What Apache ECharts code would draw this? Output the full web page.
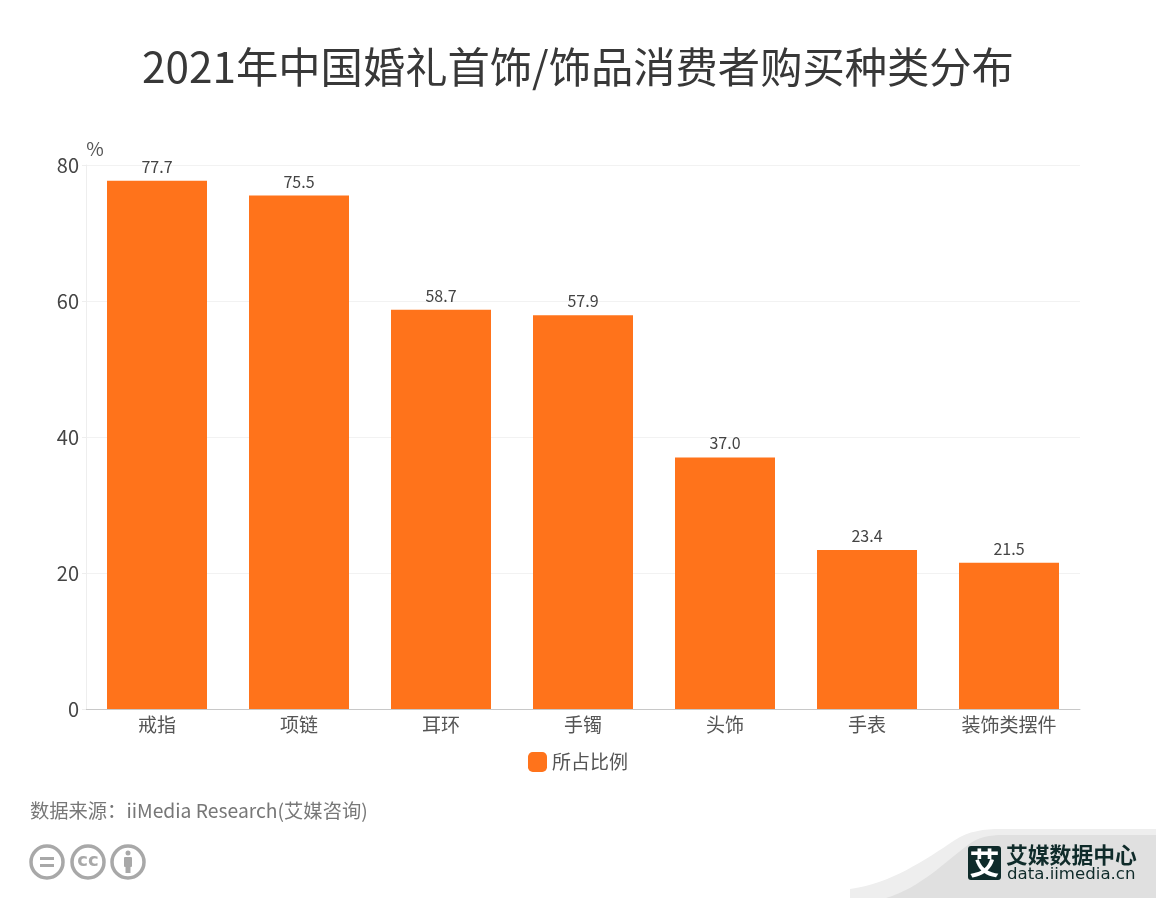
<!DOCTYPE html>
<html>
<head>
<meta charset="utf-8">
<style>html,body{margin:0;padding:0;background:#fff}</style>
</head>
<body>
<script src="https://cdn.jsdelivr.net/npm/echarts@6/dist/echarts.min.js"></script>
<div id="main" style="width:1156px;height:898px"></div>
<script>
var categories = ['戒指', '项链', '耳环', '手镯', '头饰', '手表', '装饰类摆件'];
var values = [77.7, 75.5, 58.7, 57.9, 37.0, 23.4, 21.5];
var seriesName = '所占比例';
var titleText = '2021年中国婚礼首饰/饰品消费者购买种类分布';
var sourceText = '数据来源：iiMedia Research(艾媒咨询)';

var FONT = '"Noto Sans CJK SC", "Noto Sans", sans-serif';
var grey = '#a8a8a8';

// corner decoration shapes, the graphic component has no plain path type
echarts.graphic.registerShape('swooshLight', echarts.graphic.extendShape({
    buildPath: function (ctx) {
        ctx.moveTo(850, 889);
        ctx.bezierCurveTo(890, 884, 925, 860, 955, 840);
        ctx.bezierCurveTo(968, 831, 985, 829, 1000, 829);
        ctx.lineTo(1156, 829);
        ctx.lineTo(1156, 898);
        ctx.lineTo(850, 898);
        ctx.closePath();
    }
}));
echarts.graphic.registerShape('swooshDark', echarts.graphic.extendShape({
    buildPath: function (ctx) {
        ctx.moveTo(886, 898);
        ctx.bezierCurveTo(920, 888, 945, 862, 968, 845);
        ctx.bezierCurveTo(978, 837, 990, 835, 1003, 835);
        ctx.lineTo(1156, 835);
        ctx.lineTo(1156, 898);
        ctx.closePath();
    }
}));

var myChart = echarts.init(document.getElementById('main'));

function ring(cx, cy) {
    return {type: 'circle', shape: {cx: cx, cy: cy, r: 16}, style: {fill: '#fff', stroke: grey, lineWidth: 3.5}};
}

var option = {
    animation: false,
    backgroundColor: '#fff',
    textStyle: {fontFamily: FONT},
    title: {
        text: titleText,
        left: 'center',
        top: 41,
        textStyle: {fontSize: 42.3, fontWeight: 'normal', color: '#383838', fontFamily: FONT}
    },
    legend: {
        data: [seriesName],
        left: 'center',
        top: 747,
        icon: 'roundRect',
        itemWidth: 19,
        itemHeight: 20,
        itemGap: 4,
        textStyle: {fontSize: 19, color: '#555', fontFamily: FONT}
    },
    grid: {left: 86, right: 76, top: 165, bottom: 189},
    xAxis: {
        type: 'category',
        data: categories,
        axisLine: {lineStyle: {color: '#c8c8c8', width: 1}},
        axisTick: {alignWithLabel: true, length: 5, lineStyle: {color: '#d8d8d8'}},
        axisLabel: {fontSize: 19, color: '#555', margin: 6, fontFamily: FONT, interval: 0}
    },
    yAxis: {
        type: 'value',
        min: 0,
        max: 80,
        interval: 20,
        name: '%',
        nameGap: 7,
        nameTextStyle: {fontSize: 19, color: '#555', align: 'center', padding: [0, 0, 0, 18], fontFamily: FONT},
        axisLine: {show: true, lineStyle: {color: '#eeeeee', width: 1}},
        axisTick: {show: true, length: 4, lineStyle: {color: '#eeeeee'}},
        axisLabel: {fontSize: 20, color: '#444', margin: 7, padding: [0, 0, 4, 0], fontFamily: FONT},
        splitLine: {lineStyle: {color: '#f2f2f2', width: 1}}
    },
    series: [{
        name: seriesName,
        type: 'bar',
        data: values,
        barWidth: 100,
        itemStyle: {color: '#ff731b'},
        label: {
            show: true,
            position: 'top',
            distance: 6,
            fontSize: 16,
            color: '#444',
            fontFamily: FONT,
            formatter: function (p) { return p.value.toFixed(1); }
        }
    }],
    graphic: [
        // corner swoosh
        {type: 'swooshLight', style: {fill: '#eeeeee'}},
        {type: 'swooshDark', style: {fill: '#e0e0e0'}},
        // source line
        {type: 'text', x: 30, y: 801, style: {text: sourceText, fontSize: 19.3, fill: '#777', fontFamily: FONT}},
        // cc badges
        ring(47, 862), ring(88, 862), ring(128, 862),
        {type: 'rect', shape: {x: 40, y: 857, width: 14, height: 3}, style: {fill: grey}},
        {type: 'rect', shape: {x: 40, y: 864, width: 14, height: 3}, style: {fill: grey}},
        {type: 'text', x: 88, y: 861, style: {text: 'cc', fontSize: 18, fontWeight: 'bold', fill: grey, align: 'center', verticalAlign: 'middle', fontFamily: 'DejaVu Sans'}},
        {type: 'circle', shape: {cx: 128, cy: 853, r: 2.5}, style: {fill: grey}},
        {type: 'rect', shape: {x: 124, y: 857, width: 8, height: 10, r: 1}, style: {fill: grey}},
        {type: 'rect', shape: {x: 125.5, y: 866, width: 5, height: 7}, style: {fill: grey}},
        // logo
        {type: 'rect', shape: {x: 968, y: 846, width: 33, height: 34, r: 3}, style: {fill: '#0f2b2a'}},
        {type: 'text', x: 984.5, y: 863, style: {text: '艾', fontSize: 30, fontWeight: 'bold', fill: '#fff', align: 'center', verticalAlign: 'middle', fontFamily: FONT}},
        {type: 'text', x: 1006, y: 844, style: {text: '艾媒数据中心', fontSize: 21.8, fontWeight: 'bold', fill: '#0f2b2a', fontFamily: FONT}},
        {type: 'text', x: 1007, y: 866, style: {text: 'data.iimedia.cn', fontSize: 16.6, fill: '#0f2b2a', fontFamily: 'DejaVu Sans'}}
    ]
};

myChart.setOption(option);
</script>
</body>
</html>
